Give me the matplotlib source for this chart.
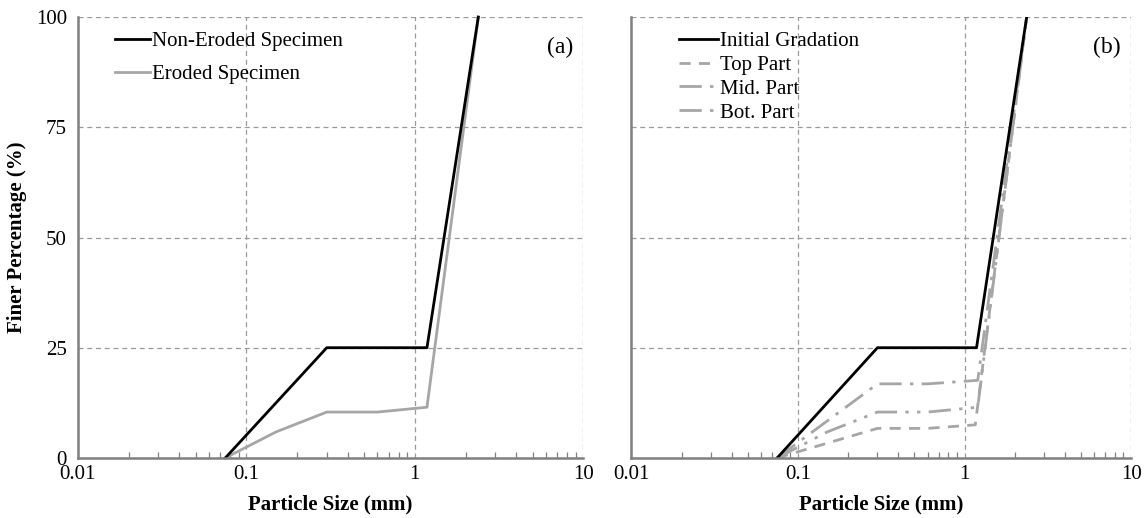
import matplotlib
matplotlib.use("Agg")
import matplotlib.pyplot as plt
from matplotlib.ticker import LogLocator, FixedLocator, NullFormatter, FixedFormatter

plt.rcParams['font.family'] = ['Liberation Serif', 'DejaVu Serif']
plt.rcParams['mathtext.fontset'] = 'stix'

# Panel (a)
a_size_nonerod = [0.075, 0.3, 1.18, 2.38]
a_pct_nonerod = [0, 25, 25, 100]
a_size_erod = [0.075, 0.15, 0.3, 0.6, 1.18, 2.38]
a_pct_erod = [0, 5.9, 10.4, 10.4, 11.5, 100]

# Panel (b)
b_size_init = [0.075, 0.3, 1.18, 2.36]
b_pct_init = [0, 25, 25, 100]
b_size_top = [0.075, 0.3, 0.6, 1.16, 2.36]
b_pct_top = [0, 6.7, 6.7, 7.5, 100]
b_size_mid = [0.075, 0.15, 0.3, 0.6, 1.2, 2.36]
b_pct_mid = [0, 5.9, 10.4, 10.4, 11.5, 100]
b_size_bot = [0.075, 0.3, 0.6, 1.2, 2.36]
b_pct_bot = [0, 16.8, 16.8, 17.6, 100]

xticks = [0.01, 0.1, 1, 10]
xticklabels = ['0.01', '0.1', '1', '10']
yticks = [0, 25, 50, 75, 100]
yticklabels = ['0', '25', '50', '75', '100']

fig = plt.figure(figsize=(11.46, 5.18), dpi=100)
axA = fig.add_axes([0.068, 0.116, 0.441, 0.851])
axB = fig.add_axes([0.551, 0.116, 0.436, 0.851])

gray = '#a6a6a6'
spine_c = '#808080'
grid_c = '#9a9a9a'

for ax in (axA, axB):
    ax.set_xscale('log')
    ax.set_xlim(0.01, 10)
    ax.set_ylim(0, 100)
    ax.xaxis.set_major_locator(FixedLocator(xticks))
    ax.xaxis.set_major_formatter(FixedFormatter(xticklabels))
    ax.xaxis.set_minor_locator(LogLocator(base=10, subs=range(2, 10)))
    ax.xaxis.set_minor_formatter(NullFormatter())
    ax.yaxis.set_major_locator(FixedLocator(yticks))
    ax.grid(True, which='major', linestyle=(0, (4, 3)), color=grid_c, linewidth=0.9)
    for s in ('top', 'right'):
        ax.spines[s].set_visible(False)
    for s in ('left', 'bottom'):
        ax.spines[s].set_color(spine_c)
        ax.spines[s].set_linewidth(1.8)
        ax.spines[s].set_zorder(5)
    ax.tick_params(axis='x', which='minor', direction='in', length=4.5, width=0.9, color=spine_c)
    ax.tick_params(axis='x', which='major', direction='in', length=0, labelsize=15, pad=5)
    ax.tick_params(axis='y', which='major', direction='in', length=0, labelsize=15, pad=8)
    ax.set_xlabel('Particle Size (mm)', fontsize=15, fontweight='bold', labelpad=8)

axA.set_yticklabels(yticklabels)
axB.set_yticklabels([])
axA.set_ylabel('Finer Percentage (%)', fontsize=15, fontweight='bold')
axA.yaxis.set_label_coords(-0.1, 0.5)

axA.plot(a_size_nonerod, a_pct_nonerod, color='black', lw=2.0, label='Non-Eroded Specimen', clip_on=False, zorder=4)
axA.plot(a_size_erod, a_pct_erod, color=gray, lw=2.0, label='Eroded Specimen', clip_on=False, zorder=3)
axA.legend(loc='upper left', bbox_to_anchor=(0.045, 1.0), frameon=False, fontsize=15,
           handlelength=1.65, handletextpad=0.1, labelspacing=0.65, borderaxespad=0.3)
axA.text(0.98, 0.93, '(a)', transform=axA.transAxes, ha='right', va='center', fontsize=17)

axB.plot(b_size_init, b_pct_init, color='black', lw=2.0, label='Initial Gradation', zorder=4)
axB.plot(b_size_top, b_pct_top, color=gray, lw=2.0, linestyle=(0, (4, 3)), label='Top Part', zorder=3)
axB.plot(b_size_mid, b_pct_mid, color=gray, lw=2.0, linestyle=(0, (8, 3, 1.2, 3, 1.2, 3)), label='Mid. Part', zorder=3)
axB.plot(b_size_bot, b_pct_bot, color=gray, lw=2.0, linestyle=(0, (8, 3, 1.2, 3)), label='Bot. Part', zorder=3)
axB.legend(loc='upper left', bbox_to_anchor=(0.065, 1.0), frameon=False, fontsize=15,
           handlelength=1.9, handletextpad=0.1, labelspacing=0.2, borderaxespad=0.3)
axB.text(0.98, 0.93, '(b)', transform=axB.transAxes, ha='right', va='center', fontsize=17)

fig.savefig('out.png', dpi=100)
